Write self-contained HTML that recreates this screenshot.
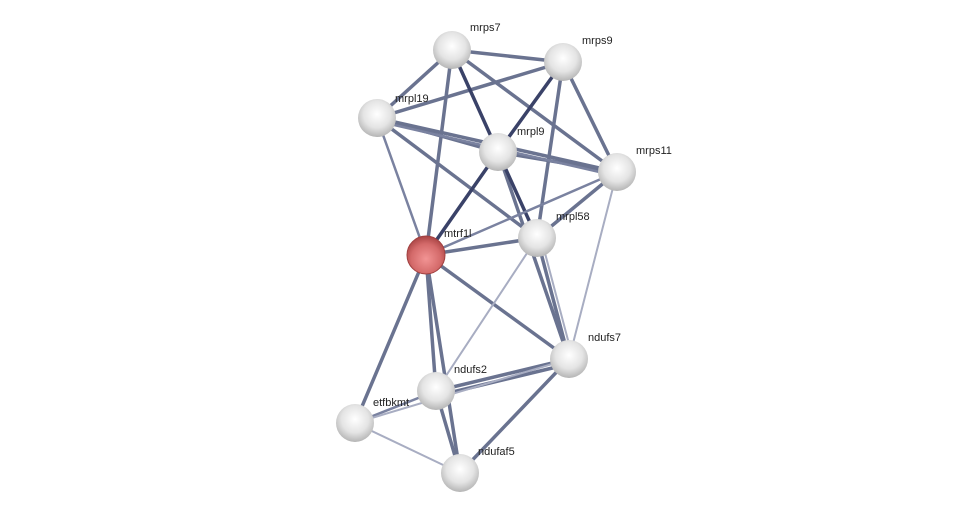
<!DOCTYPE html>
<html><head><style>body{margin:0;background:#fff}svg{display:block}text{font-family:"Liberation Sans",sans-serif;font-size:11px;fill:#222}</style></head><body>
<svg width="976" height="519" viewBox="0 0 976 519">
<defs>
<radialGradient id="g" cx="0.5" cy="0.4" r="0.65"><stop offset="0" stop-color="#ffffff"/><stop offset="0.55" stop-color="#e4e4e4"/><stop offset="0.9" stop-color="#b8b8b8"/><stop offset="1" stop-color="#999"/></radialGradient>
<radialGradient id="r" cx="0.5" cy="0.6" r="0.65"><stop offset="0" stop-color="#f29494"/><stop offset="0.6" stop-color="#d46a6a"/><stop offset="1" stop-color="#9e3a3a"/></radialGradient>
</defs>
<g stroke-linecap="round">
<g stroke="#5a6485" stroke-width="3.5" opacity="0.9">
<line x1="452" y1="50" x2="563" y2="62"/><line x1="452" y1="50" x2="377" y2="118"/><line x1="452" y1="50" x2="426" y2="255"/><line x1="452" y1="50" x2="617" y2="172"/>
<line x1="563" y1="62" x2="377" y2="118"/><line x1="563" y1="62" x2="537" y2="238"/><line x1="563" y1="62" x2="617" y2="172"/>
<line x1="377" y1="118" x2="498" y2="152"/><line x1="377" y1="118" x2="617" y2="172"/><line x1="377" y1="118" x2="537" y2="238"/>
<line x1="498" y1="152" x2="617" y2="172"/><line x1="498" y1="152" x2="569" y2="359"/>
<line x1="617" y1="172" x2="537" y2="238"/><line x1="426" y1="255" x2="537" y2="238"/><line x1="426" y1="255" x2="569" y2="359"/>
<line x1="426" y1="255" x2="355" y2="423"/><line x1="426" y1="255" x2="436" y2="391"/><line x1="426" y1="255" x2="460" y2="473"/>
<line x1="537" y1="238" x2="569" y2="359"/><line x1="436" y1="391" x2="569" y2="359"/><line x1="569" y1="359" x2="460" y2="473"/>
<line x1="436" y1="391" x2="460" y2="473"/><line x1="436" y1="396" x2="569" y2="364"/>
</g>
<g stroke="#3a4268" stroke-width="3.5"><line x1="452" y1="50" x2="498" y2="152"/><line x1="563" y1="62" x2="498" y2="152"/><line x1="498" y1="152" x2="426" y2="255"/><line x1="498" y1="152" x2="537" y2="238"/></g>
<g stroke="#7a82a0" stroke-width="2.5"><line x1="377" y1="118" x2="426" y2="255"/><line x1="617" y1="172" x2="426" y2="255"/><line x1="436" y1="391" x2="355" y2="423"/><line x1="381" y1="122" x2="617" y2="176"/></g>
<g stroke="#a8adc2" stroke-width="2"><line x1="617" y1="172" x2="569" y2="359"/><line x1="537" y1="238" x2="436" y2="391"/><line x1="355" y1="423" x2="460" y2="473"/><line x1="355" y1="423" x2="569" y2="359"/><line x1="541" y1="238" x2="573" y2="359"/></g>
</g>
<g>
<circle cx="452" cy="50" r="19" fill="url(#g)"/><circle cx="563" cy="62" r="19" fill="url(#g)"/><circle cx="377" cy="118" r="19" fill="url(#g)"/><circle cx="498" cy="152" r="19" fill="url(#g)"/><circle cx="617" cy="172" r="19" fill="url(#g)"/><circle cx="537" cy="238" r="19" fill="url(#g)"/><circle cx="426" cy="255" r="19" fill="url(#r)" stroke="#a04040" stroke-width="1"/><circle cx="569" cy="359" r="19" fill="url(#g)"/><circle cx="436" cy="391" r="19" fill="url(#g)"/><circle cx="355" cy="423" r="19" fill="url(#g)"/><circle cx="460" cy="473" r="19" fill="url(#g)"/>
</g>
<g>
<text x="470" y="31">mrps7</text><text x="582" y="44">mrps9</text><text x="395" y="102">mrpl19</text><text x="517" y="135">mrpl9</text><text x="636" y="154">mrps11</text><text x="556" y="220">mrpl58</text><text x="444" y="237">mtrf1l</text><text x="588" y="341">ndufs7</text><text x="454" y="373">ndufs2</text><text x="373" y="406">etfbkmt</text><text x="478" y="455">ndufaf5</text>
</g>
</svg>
</body></html>
